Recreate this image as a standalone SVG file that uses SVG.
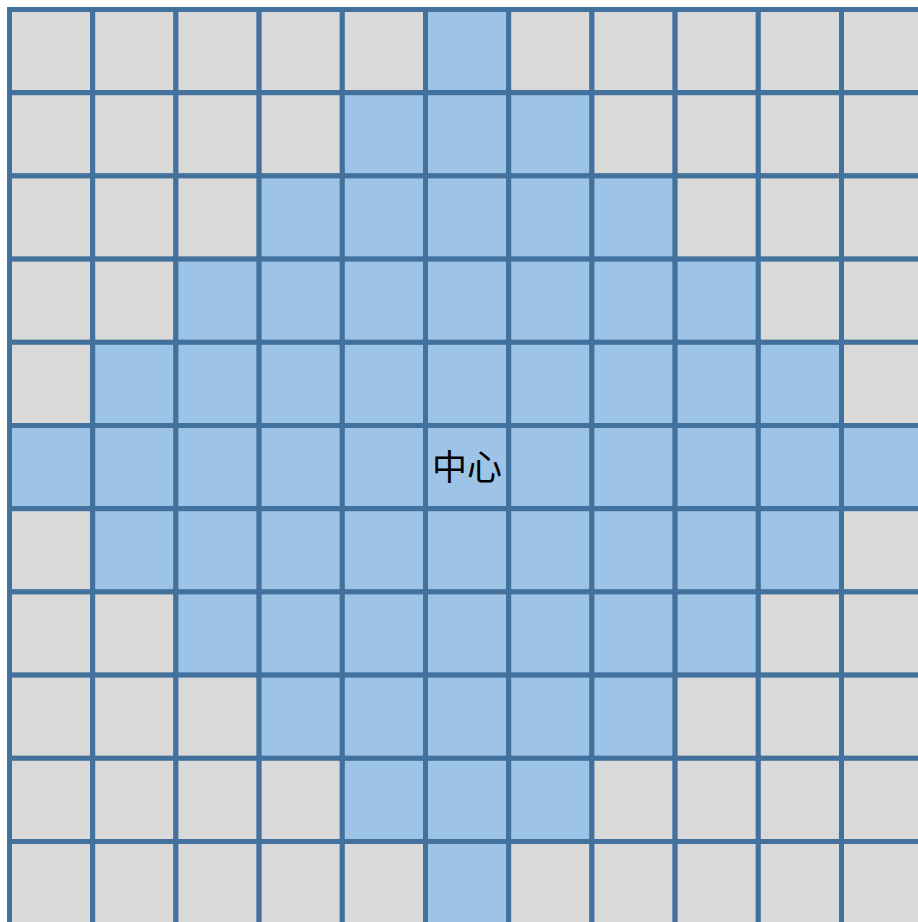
<svg xmlns="http://www.w3.org/2000/svg" width="918" height="922" viewBox="0 0 918 922">
<style>
rect{stroke:#41719c;stroke-width:5;width:83.2px;height:83.2px}
.g rect{fill:#d9d9d9}
.b rect{fill:#9dc3e6}
text{font-family:"Noto Sans CJK SC","Noto Sans CJK JP",sans-serif;font-size:35px;fill:#000}
</style>
<rect x="0" y="0" width="918" height="922" style="fill:#ffffff;stroke:none;width:918px;height:922px"/>
<g id="r0">
<g id="c0-0" class="g"><rect x="9.5" y="9.5"/></g><g id="c0-1" class="g"><rect x="92.7" y="9.5"/></g><g id="c0-2" class="g"><rect x="175.9" y="9.5"/></g><g id="c0-3" class="g"><rect x="259.1" y="9.5"/></g><g id="c0-4" class="g"><rect x="342.3" y="9.5"/></g><g id="c0-5" class="b"><rect x="425.5" y="9.5"/></g><g id="c0-6" class="g"><rect x="508.7" y="9.5"/></g><g id="c0-7" class="g"><rect x="591.9" y="9.5"/></g><g id="c0-8" class="g"><rect x="675.1" y="9.5"/></g><g id="c0-9" class="g"><rect x="758.3" y="9.5"/></g><g id="c0-10" class="g"><rect x="841.5" y="9.5"/></g>
</g>
<g id="r1">
<g id="c1-0" class="g"><rect x="9.5" y="92.7"/></g><g id="c1-1" class="g"><rect x="92.7" y="92.7"/></g><g id="c1-2" class="g"><rect x="175.9" y="92.7"/></g><g id="c1-3" class="g"><rect x="259.1" y="92.7"/></g><g id="c1-4" class="b"><rect x="342.3" y="92.7"/></g><g id="c1-5" class="b"><rect x="425.5" y="92.7"/></g><g id="c1-6" class="b"><rect x="508.7" y="92.7"/></g><g id="c1-7" class="g"><rect x="591.9" y="92.7"/></g><g id="c1-8" class="g"><rect x="675.1" y="92.7"/></g><g id="c1-9" class="g"><rect x="758.3" y="92.7"/></g><g id="c1-10" class="g"><rect x="841.5" y="92.7"/></g>
</g>
<g id="r2">
<g id="c2-0" class="g"><rect x="9.5" y="175.9"/></g><g id="c2-1" class="g"><rect x="92.7" y="175.9"/></g><g id="c2-2" class="g"><rect x="175.9" y="175.9"/></g><g id="c2-3" class="b"><rect x="259.1" y="175.9"/></g><g id="c2-4" class="b"><rect x="342.3" y="175.9"/></g><g id="c2-5" class="b"><rect x="425.5" y="175.9"/></g><g id="c2-6" class="b"><rect x="508.7" y="175.9"/></g><g id="c2-7" class="b"><rect x="591.9" y="175.9"/></g><g id="c2-8" class="g"><rect x="675.1" y="175.9"/></g><g id="c2-9" class="g"><rect x="758.3" y="175.9"/></g><g id="c2-10" class="g"><rect x="841.5" y="175.9"/></g>
</g>
<g id="r3">
<g id="c3-0" class="g"><rect x="9.5" y="259.1"/></g><g id="c3-1" class="g"><rect x="92.7" y="259.1"/></g><g id="c3-2" class="b"><rect x="175.9" y="259.1"/></g><g id="c3-3" class="b"><rect x="259.1" y="259.1"/></g><g id="c3-4" class="b"><rect x="342.3" y="259.1"/></g><g id="c3-5" class="b"><rect x="425.5" y="259.1"/></g><g id="c3-6" class="b"><rect x="508.7" y="259.1"/></g><g id="c3-7" class="b"><rect x="591.9" y="259.1"/></g><g id="c3-8" class="b"><rect x="675.1" y="259.1"/></g><g id="c3-9" class="g"><rect x="758.3" y="259.1"/></g><g id="c3-10" class="g"><rect x="841.5" y="259.1"/></g>
</g>
<g id="r4">
<g id="c4-0" class="g"><rect x="9.5" y="342.3"/></g><g id="c4-1" class="b"><rect x="92.7" y="342.3"/></g><g id="c4-2" class="b"><rect x="175.9" y="342.3"/></g><g id="c4-3" class="b"><rect x="259.1" y="342.3"/></g><g id="c4-4" class="b"><rect x="342.3" y="342.3"/></g><g id="c4-5" class="b"><rect x="425.5" y="342.3"/></g><g id="c4-6" class="b"><rect x="508.7" y="342.3"/></g><g id="c4-7" class="b"><rect x="591.9" y="342.3"/></g><g id="c4-8" class="b"><rect x="675.1" y="342.3"/></g><g id="c4-9" class="b"><rect x="758.3" y="342.3"/></g><g id="c4-10" class="g"><rect x="841.5" y="342.3"/></g>
</g>
<g id="r5">
<g id="c5-0" class="b"><rect x="9.5" y="425.5"/></g><g id="c5-1" class="b"><rect x="92.7" y="425.5"/></g><g id="c5-2" class="b"><rect x="175.9" y="425.5"/></g><g id="c5-3" class="b"><rect x="259.1" y="425.5"/></g><g id="c5-4" class="b"><rect x="342.3" y="425.5"/></g><g id="c5-5" class="b"><rect x="425.5" y="425.5"/><text x="467.1" y="480" text-anchor="middle">中心</text></g><g id="c5-6" class="b"><rect x="508.7" y="425.5"/></g><g id="c5-7" class="b"><rect x="591.9" y="425.5"/></g><g id="c5-8" class="b"><rect x="675.1" y="425.5"/></g><g id="c5-9" class="b"><rect x="758.3" y="425.5"/></g><g id="c5-10" class="b"><rect x="841.5" y="425.5"/></g>
</g>
<g id="r6">
<g id="c6-0" class="g"><rect x="9.5" y="508.7"/></g><g id="c6-1" class="b"><rect x="92.7" y="508.7"/></g><g id="c6-2" class="b"><rect x="175.9" y="508.7"/></g><g id="c6-3" class="b"><rect x="259.1" y="508.7"/></g><g id="c6-4" class="b"><rect x="342.3" y="508.7"/></g><g id="c6-5" class="b"><rect x="425.5" y="508.7"/></g><g id="c6-6" class="b"><rect x="508.7" y="508.7"/></g><g id="c6-7" class="b"><rect x="591.9" y="508.7"/></g><g id="c6-8" class="b"><rect x="675.1" y="508.7"/></g><g id="c6-9" class="b"><rect x="758.3" y="508.7"/></g><g id="c6-10" class="g"><rect x="841.5" y="508.7"/></g>
</g>
<g id="r7">
<g id="c7-0" class="g"><rect x="9.5" y="591.9"/></g><g id="c7-1" class="g"><rect x="92.7" y="591.9"/></g><g id="c7-2" class="b"><rect x="175.9" y="591.9"/></g><g id="c7-3" class="b"><rect x="259.1" y="591.9"/></g><g id="c7-4" class="b"><rect x="342.3" y="591.9"/></g><g id="c7-5" class="b"><rect x="425.5" y="591.9"/></g><g id="c7-6" class="b"><rect x="508.7" y="591.9"/></g><g id="c7-7" class="b"><rect x="591.9" y="591.9"/></g><g id="c7-8" class="b"><rect x="675.1" y="591.9"/></g><g id="c7-9" class="g"><rect x="758.3" y="591.9"/></g><g id="c7-10" class="g"><rect x="841.5" y="591.9"/></g>
</g>
<g id="r8">
<g id="c8-0" class="g"><rect x="9.5" y="675.1"/></g><g id="c8-1" class="g"><rect x="92.7" y="675.1"/></g><g id="c8-2" class="g"><rect x="175.9" y="675.1"/></g><g id="c8-3" class="b"><rect x="259.1" y="675.1"/></g><g id="c8-4" class="b"><rect x="342.3" y="675.1"/></g><g id="c8-5" class="b"><rect x="425.5" y="675.1"/></g><g id="c8-6" class="b"><rect x="508.7" y="675.1"/></g><g id="c8-7" class="b"><rect x="591.9" y="675.1"/></g><g id="c8-8" class="g"><rect x="675.1" y="675.1"/></g><g id="c8-9" class="g"><rect x="758.3" y="675.1"/></g><g id="c8-10" class="g"><rect x="841.5" y="675.1"/></g>
</g>
<g id="r9">
<g id="c9-0" class="g"><rect x="9.5" y="758.3"/></g><g id="c9-1" class="g"><rect x="92.7" y="758.3"/></g><g id="c9-2" class="g"><rect x="175.9" y="758.3"/></g><g id="c9-3" class="g"><rect x="259.1" y="758.3"/></g><g id="c9-4" class="b"><rect x="342.3" y="758.3"/></g><g id="c9-5" class="b"><rect x="425.5" y="758.3"/></g><g id="c9-6" class="b"><rect x="508.7" y="758.3"/></g><g id="c9-7" class="g"><rect x="591.9" y="758.3"/></g><g id="c9-8" class="g"><rect x="675.1" y="758.3"/></g><g id="c9-9" class="g"><rect x="758.3" y="758.3"/></g><g id="c9-10" class="g"><rect x="841.5" y="758.3"/></g>
</g>
<g id="r10">
<g id="c10-0" class="g"><rect x="9.5" y="841.5"/></g><g id="c10-1" class="g"><rect x="92.7" y="841.5"/></g><g id="c10-2" class="g"><rect x="175.9" y="841.5"/></g><g id="c10-3" class="g"><rect x="259.1" y="841.5"/></g><g id="c10-4" class="g"><rect x="342.3" y="841.5"/></g><g id="c10-5" class="b"><rect x="425.5" y="841.5"/></g><g id="c10-6" class="g"><rect x="508.7" y="841.5"/></g><g id="c10-7" class="g"><rect x="591.9" y="841.5"/></g><g id="c10-8" class="g"><rect x="675.1" y="841.5"/></g><g id="c10-9" class="g"><rect x="758.3" y="841.5"/></g><g id="c10-10" class="g"><rect x="841.5" y="841.5"/></g>
</g>
<g id="connectors"/>
</svg>
